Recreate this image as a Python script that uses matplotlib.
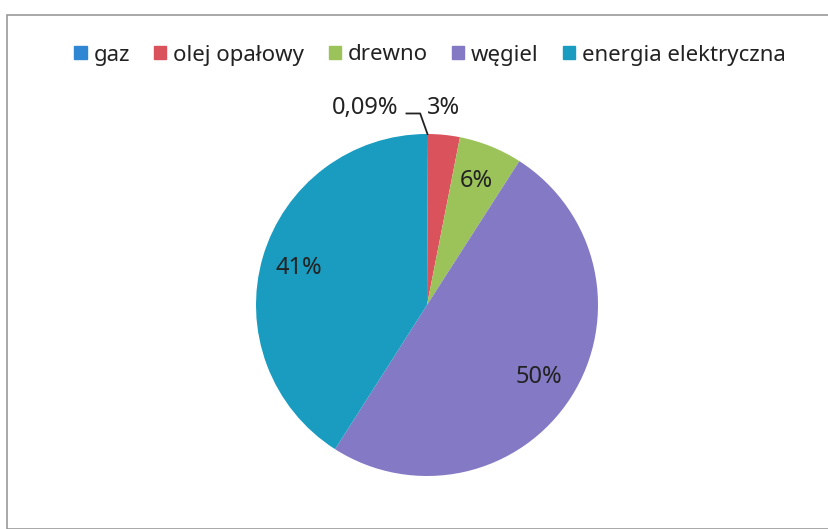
import matplotlib
matplotlib.use("Agg")
import matplotlib.pyplot as plt
import matplotlib.patches as mpatches
import numpy as np

plt.rcParams['font.family'] = ['Noto Sans', 'DejaVu Sans']

# dane
categories = ['gaz', 'olej opałowy', 'drewno', 'węgiel', 'energia elektryczna']
values = [0.09, 3, 6, 50, 41]
labels = ['0,09%', '3%', '6%', '50%', '41%']
colors = ['#2f86d2', '#d9525c', '#9bc35a', '#8479c4', '#199cc0']

W, H = 829, 529
fig = plt.figure(figsize=(W / 100, H / 100), dpi=100)

# obramowanie wykresu
fig.add_artist(mpatches.Rectangle((7 / W, 0), 1.2, 1 - 15 / H, transform=fig.transFigure,
                                  fill=False, edgecolor='#9a9a9a', linewidth=1.2))

cx, cy, r = 427, 529 - 305, 171
half = 1.25 * r
ax = fig.add_axes([(cx - half) / W, (cy - half) / H, 2 * half / W, 2 * half / H])
wedges, _ = ax.pie(values, colors=colors, startangle=90, counterclock=False,
                   wedgeprops=dict(linewidth=0))
ax.set_xlim(-1.25, 1.25)
ax.set_ylim(-1.25, 1.25)
ax.set_aspect('equal')
ax.axis('off')

fs = 17
tc = '#222222'
# etykiety wewnątrz
for w, lab in zip(wedges[2:], labels[2:]):
    ang = np.deg2rad((w.theta1 + w.theta2) / 2)
    ax.text(0.78 * np.cos(ang), 0.78 * np.sin(ang), lab, ha='center', va='center',
            fontsize=fs, color=tc)

# 3% na zewnątrz
w = wedges[1]
ang = np.deg2rad((w.theta1 + w.theta2) / 2)
ax.text(0.0, 1.15, labels[1], ha='left', va='center', fontsize=fs, color=tc)

# 0,09% z linią odniesienia
w = wedges[0]
ang = np.deg2rad((w.theta1 + w.theta2) / 2)
x0, y0 = np.cos(ang), np.sin(ang)
ax.plot([x0, -0.04, -0.12], [y0, 1.12, 1.12], color=tc, lw=1.3)
ax.text(-0.17, 1.15, labels[0], ha='right', va='center', fontsize=fs, color=tc)

handles = [mpatches.Patch(color=c, label=n) for c, n in zip(colors, categories)]
fig.legend(handles=handles, loc='center', bbox_to_anchor=(430 / W, 1 - 55 / H), ncol=5,
           frameon=False, fontsize=16, handlelength=0.55, handleheight=0.55,
           handletextpad=0.3, columnspacing=1.1, labelcolor=tc)

fig.savefig('out.png', dpi=100, facecolor='white')
